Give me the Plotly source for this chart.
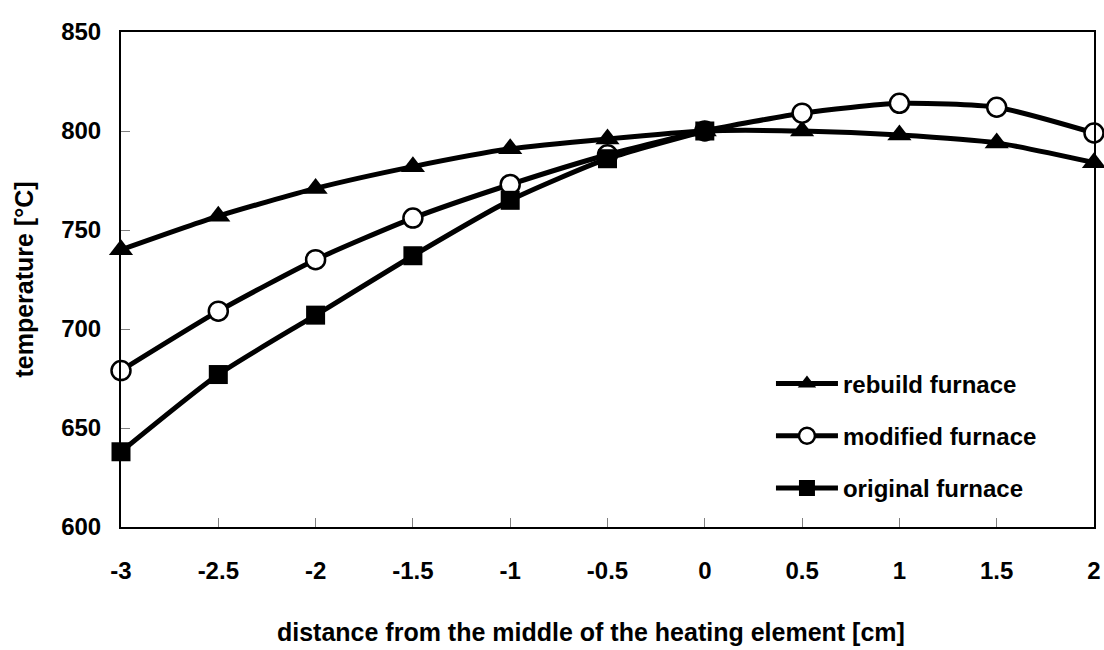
import plotly.graph_objects as go

x = [-3, -2.5, -2, -1.5, -1, -0.5, 0, 0.5, 1, 1.5, 2]
x_orig = [-3, -2.5, -2, -1.5, -1, -0.5, 0]
rebuild = [740, 757, 771, 782, 791, 796, 800, 800, 798, 794, 784]
modified = [679, 709, 735, 756, 773, 788, 800, 809, 814, 812, 799]
original = [638, 677, 707, 737, 765, 786, 800]

FONT = "Liberation Sans"

fig = go.Figure()
common = dict(mode="lines+markers", line=dict(color="black", width=5, shape="spline", smoothing=0.6), cliponaxis=False)
fig.add_trace(go.Scatter(x=x, y=rebuild, name="rebuild furnace", legendgroup="a",
                         marker=dict(symbol="triangle-up", size=21, color="black"), **common))
fig.add_trace(go.Scatter(x=x, y=modified, name="modified furnace", legendgroup="b",
                         marker=dict(symbol="circle", size=19, color="white", line=dict(color="black", width=2.5)), **common))
fig.add_trace(go.Scatter(x=x_orig, y=original, name="original furnace", legendgroup="c",
                         marker=dict(symbol="square", size=19, color="black"), **common))

fig.update_layout(
    width=1104, height=650,
    margin=dict(l=121, r=10, t=32, b=123, autoexpand=False),
    plot_bgcolor="white", paper_bgcolor="white",
    font=dict(family=FONT, size=24, color="black", weight="bold"),
    showlegend=True,
    legend=dict(x=0.668, y=0.184, xanchor="left", yanchor="middle", bgcolor="rgba(0,0,0,0)",
                font=dict(family=FONT, size=24, color="black", weight="bold"), itemwidth=62,
                tracegroupgap=18),
    xaxis=dict(range=[-3, 2], tickvals=x, ticktext=[str(v) if v != int(v) else str(int(v)) for v in x],
               showgrid=False, zeroline=False, showline=True, linecolor="black", linewidth=2, mirror=True,
               ticks="inside", ticklen=9, tickcolor="#808080", tickwidth=1, automargin=False,
               tickfont=dict(family=FONT, size=24, weight="bold"), ticklabelstandoff=21),
    yaxis=dict(range=[600, 850], tickvals=[600, 650, 700, 750, 800, 850],
               showgrid=False, zeroline=False, showline=True, linecolor="black", linewidth=2, mirror=True,
               ticks="inside", ticklen=9, tickcolor="#808080", tickwidth=1, automargin=False,
               tickfont=dict(family=FONT, size=24, weight="bold"), ticklabelstandoff=13,
               title=dict(text="temperature [°C]", font=dict(family=FONT, size=25, weight="bold", color="black"),
                          standoff=20)),
    annotations=[
        dict(text="distance from the middle of the heating element [cm]", xref="paper", yref="paper",
             x=0.483, y=-0.212, xanchor="center", yanchor="middle", showarrow=False,
             font=dict(family=FONT, size=25, weight="bold", color="black")),
    ],
)
fig.write_html("out.html")
